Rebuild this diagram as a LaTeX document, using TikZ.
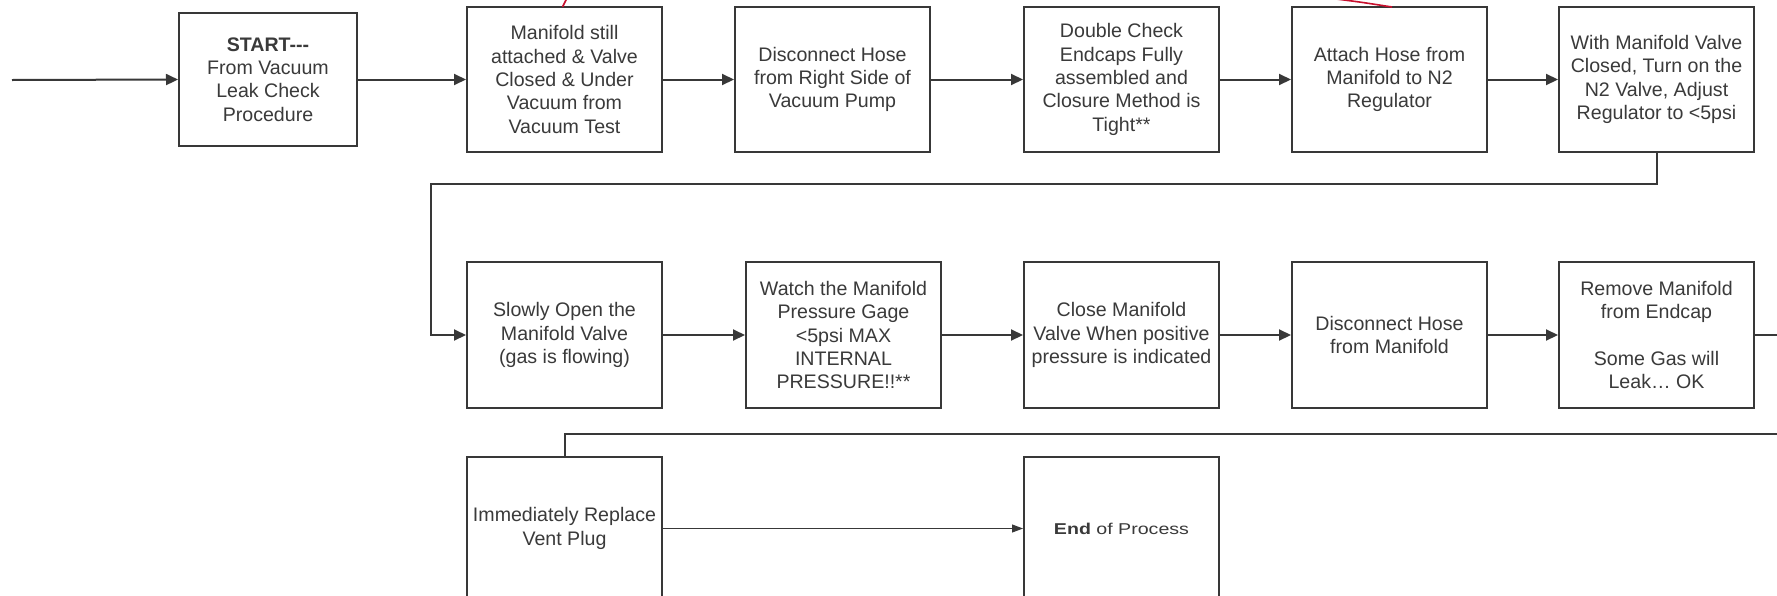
\documentclass[tikz,border=0pt]{standalone}
\usepackage{fontspec}
\setmainfont{Liberation Sans}
\usetikzlibrary{arrows.meta}
\definecolor{linegray}{HTML}{383838}
\definecolor{textgray}{HTML}{3A3A3A}
\definecolor{redline}{HTML}{C8102E}
\tikzset{
  stepbox/.style={draw=linegray, line width=1pt, inner sep=0pt, align=center,
    text=textgray, font=\fontsize{9.8}{11.65}\selectfont,
    minimum width=97.5pt, minimum height=72.5pt},
  flow/.style={draw=linegray, line width=1pt, -{Triangle[length=6pt,width=5.5pt]}},
  thinflow/.style={draw=linegray, line width=0.5pt, -{Triangle[length=5.5pt,width=4pt]}},
  plain/.style={draw=linegray, line width=1pt},
}
\begin{document}
\begin{tikzpicture}[x=0.5pt,y=-0.5pt]
\useasboundingbox (0,0) rectangle (1777,595);
\clip (0,0) rectangle (1777,595);
\fill[white] (0,0) rectangle (1777,595);

% row 1
\node[stepbox, minimum width=89pt, minimum height=66.5pt] (start) at (268,79.5)
  {\textbf{START-{}-{}-}\\From Vacuum\\Leak Check\\Procedure};
\node[stepbox] (b2) at (564.5,79.5) {Manifold still\\attached \& Valve\\Closed \& Under\\Vacuum from\\Vacuum Test};
\node[stepbox] (b3) at (832.5,79.5) {Disconnect Hose\\from Right Side of\\Vacuum Pump};
\node[stepbox] (b4) at (1121.5,79.5) {Double Check\\Endcaps Fully\\assembled and\\Closure Method is\\Tight**};
\node[stepbox] (b5) at (1389.5,79.5) {Attach Hose from\\Manifold to N2\\Regulator};
\node[stepbox] (b6) at (1656.5,79.5) {With Manifold Valve\\Closed, Turn on the\\N2 Valve, Adjust\\Regulator to <5psi};

% row 2
\node[stepbox, minimum height=73pt] (b7) at (564.5,335) {Slowly Open the\\Manifold Valve\\(gas is flowing)};
\node[stepbox, minimum height=73pt] (b8) at (843.5,335) {Watch the Manifold\\Pressure Gage\\<5psi MAX\\INTERNAL\\PRESSURE!!**};
\node[stepbox, minimum height=73pt] (b9) at (1121.5,335) {Close Manifold\\Valve When positive\\pressure is indicated};
\node[stepbox, minimum height=73pt] (b10) at (1389.5,335) {Disconnect Hose\\from Manifold};
\node[stepbox, minimum height=73pt] (b11) at (1656.5,335) {Remove Manifold\\from Endcap\\ \\Some Gas will\\Leak… OK};

% row 3
\node[stepbox, minimum height=71.5pt] (b12) at (564.5,528.5) {Immediately Replace\\Vent Plug};
\node[stepbox, minimum height=71.5pt] (b13) at (1121.5,528.5) {\scalebox{1}[0.8]{\textbf{End} of Process}};

% coordinates
\coordinate (in0) at (12,80);
\coordinate (turn1) at (431,184);
\coordinate (exitR) at (1800,335);
\coordinate (entryR) at (1800,434);

% connectors
\draw[flow] (in0) -- (start.west);
\draw[flow] (start.east) -- (b2.west);
\draw[flow] (b2.east) -- (b3.west);
\draw[flow] (b3.east) -- (b4.west);
\draw[flow] (b4.east) -- (b5.west);
\draw[flow] (b5.east) -- (b6.west);
\draw[flow] (b6.south) |- (turn1) |- (b7.west);
\draw[flow] (b7.east) -- (b8.west);
\draw[flow] (b8.east) -- (b9.west);
\draw[flow] (b9.east) -- (b10.west);
\draw[flow] (b10.east) -- (b11.west);
\draw[plain] (b11.east) -- (exitR);
\draw[plain] (entryR) -| (b12.north);
\draw[thinflow] (b12.east) -- (b13.west);

% red fragments at top edge
\draw[redline, line width=0.8pt] (567,-2) -- (562.5,7);
\draw[redline, line width=0.8pt] (1336,-1) .. controls (1360,2) .. (1392,7);
\end{tikzpicture}
\end{document}
